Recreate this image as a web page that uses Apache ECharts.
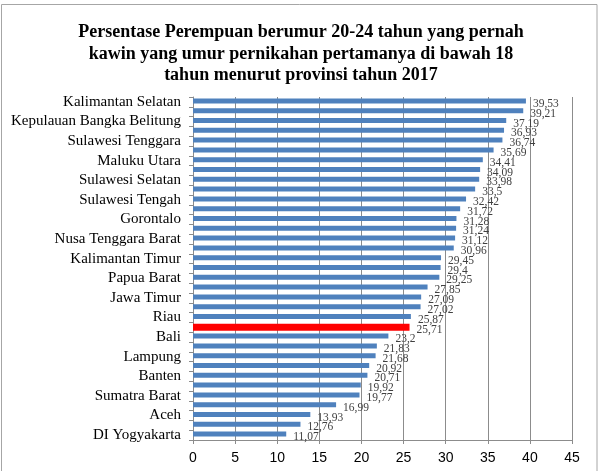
<!DOCTYPE html>
<html><head><meta charset="utf-8">
<script src="https://cdn.jsdelivr.net/npm/echarts@6/dist/echarts.min.js"></script>
<style>html,body{margin:0;padding:0;background:#fff}#c{width:602px;height:471px}</style>
</head><body><div id="c"></div>
<script>
// Categories listed bottom -> top
const provinces = ["DI Yogyakarta","Nusa Tenggara Timur","Aceh","DKI Jakarta","Sumatra Barat","Kepulauan Riau","Banten","Sumatera Utara","Lampung","Kalimantan Utara","Bali","Indonesia","Riau","Jawa Tengah","Jawa Timur","Sulawesi Utara","Papua Barat","Maluku","Kalimantan Timur","Papua","Nusa Tenggara Barat","Sumatera Selatan","Gorontalo","Jawa Barat","Sulawesi Tengah","Bengkulu","Sulawesi Selatan","Jambi","Maluku Utara","Kalimantan Barat","Sulawesi Tenggara","Sulawesi Barat","Kepulauan Bangka Belitung","Kalimantan Tengah","Kalimantan Selatan"];
const values = [11.07,12.76,13.93,16.99,19.77,19.92,20.71,20.92,21.68,21.83,23.2,25.71,25.87,27.02,27.09,27.85,29.25,29.4,29.45,30.96,31.12,31.24,31.28,31.72,32.42,33.5,33.98,34.09,34.41,35.69,36.74,36.93,37.19,39.21,39.53];
const highlight = "Indonesia";
const xTicks = [0,5,10,15,20,25,30,35,40,45];
const titleText = "Persentase Perempuan berumur 20-24 tahun yang pernah\nkawin yang umur pernikahan pertamanya di bawah 18\ntahun menurut provinsi tahun 2017";

const chart = echarts.init(document.getElementById('c'), null, {renderer:'canvas'});
const fmt = p => String(p.value).replace('.', ',');
const lbl = {show:true, position:'right', distance:7, offset:[0,3], fontFamily:'Liberation Serif', fontSize:11.5, color:'#404040', formatter:fmt};
chart.setOption({
  animation:false,
  backgroundColor:'#fff',
  title:{text:titleText, left:'center', top:17, textStyle:{fontFamily:'Liberation Serif', fontWeight:'bold', fontSize:18, lineHeight:21.5, color:'#000'}},
  grid:{left:193, right:30, top:97, bottom:31, containLabel:false},
  xAxis:{type:'value', min:xTicks[0], max:xTicks[xTicks.length-1], interval:5,
    axisLine:{show:true, lineStyle:{color:'#8c8c8c'}}, axisTick:{show:true, length:4, lineStyle:{color:'#8c8c8c'}},
    axisLabel:{fontFamily:'Liberation Sans', fontSize:14, color:'#000', margin:11},
    splitLine:{show:true, lineStyle:{color:'#8c8c8c', width:1}}},
  yAxis:{type:'category', data:provinces,
    axisLine:{show:true, lineStyle:{color:'#8c8c8c'}},
    axisTick:{show:true, interval:0, length:4, lineStyle:{color:'#8c8c8c'}},
    axisLabel:{interval:1, fontFamily:'Liberation Serif', fontSize:15, color:'#000', margin:12}},
  series:[
    {type:'bar', barWidth:5, barGap:'-100%', itemStyle:{color:'#4f81bd'},
     data:values.map((v,i)=>provinces[i]===highlight?null:v), label:lbl},
    {type:'bar', barWidth:7, barGap:'-100%', itemStyle:{color:'#ff0000'},
     data:values.map((v,i)=>provinces[i]===highlight?v:null), label:lbl}
  ],
  graphic:[{type:'rect', shape:{x:1.5,y:4.5,width:595.5,height:480}, style:{fill:'none', stroke:'#a6a6a6', lineWidth:1}, silent:true}]
});
</script></body></html>
